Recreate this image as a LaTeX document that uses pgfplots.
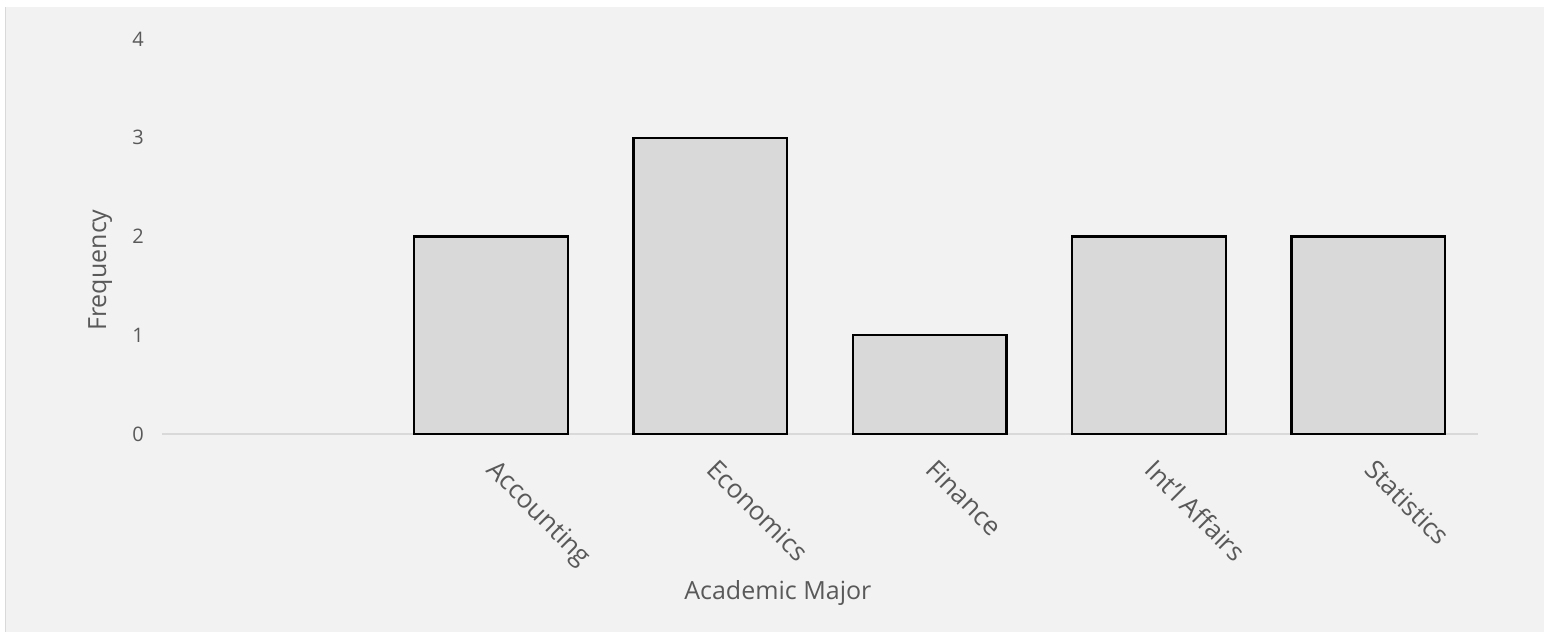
\documentclass[border=0pt]{standalone}
\usepackage{pgfplots}
\pgfplotsset{compat=1.18}
\usepackage{fontspec}
\setmainfont{Open Sans}
\definecolor{bg}{HTML}{F2F2F2}
\definecolor{barfill}{HTML}{D9D9D9}
\definecolor{txt}{HTML}{595959}
\definecolor{axl}{HTML}{D9D9D9}
\begin{document}
\begin{tikzpicture}
\fill[white] (0,0) rectangle (772pt,316pt);
\fill[bg] (2.5pt,0) rectangle (772pt,312.5pt);
\draw[black!15, line width=0.6pt] (2.8pt,0) -- (2.8pt,312.5pt);
\begin{axis}[
  at={(81pt,99pt)}, anchor=south west,
  scale only axis,
  width=658pt, height=197.5pt,
  xmin=-0.5, xmax=5.5,
  ymin=0, ymax=4,
  ytick={0,1,2,3,4},
  xtick={0,1,2,3,4,5},
  xticklabels={{},Accounting,Economics,Finance,Int'l Affairs,Statistics},
  axis lines*=left,
  y axis line style={draw=none},
  x axis line style={draw=axl, line width=0.8pt},
  major tick length=0pt,
  tick style={draw=none},
  /pgf/number format/assume math mode=true,
  yticklabel style={font=\fontsize{10}{12}\selectfont, text=txt, xshift=-5.5pt},
  xticklabel style={font=\fontsize{13}{15}\selectfont, text=txt, rotate=-45, anchor=north west, xshift=7.8pt, yshift=-2pt},
  xlabel={Academic Major},
  ylabel={Frequency},
  label style={font=\fontsize{12.5}{14}\selectfont, text=txt},
  xlabel style={at={(rel axis cs:0.468,-0.4025)}, anchor=center},
  ylabel style={at={(rel axis cs:-0.047,0.415)}, anchor=center},
  clip=false,
]
\addplot[ybar, bar width=0.7, fill=barfill, draw=black, line width=1.25pt]
  coordinates {(1,2) (2,3) (3,1) (4,2) (5,2)};
\end{axis}
\pgfresetboundingbox
\useasboundingbox (0,0) rectangle (772pt,316pt);
\end{tikzpicture}
\end{document}
